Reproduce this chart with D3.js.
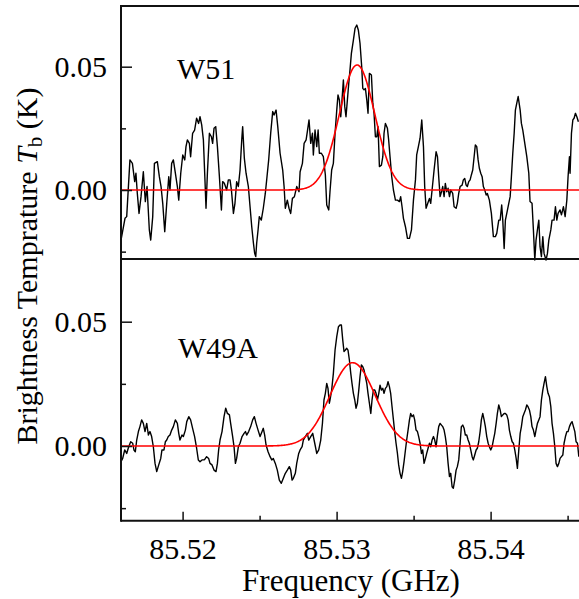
<!DOCTYPE html>
<html>
<head>
<meta charset="utf-8">
<script src="https://cdn.jsdelivr.net/npm/d3@7"></script>
<style>
  body { margin: 0; background: #fff; }
  svg { display: block; }
  text { font-family: "Liberation Serif", "Times New Roman", serif; fill: #000; }
</style>
</head>
<body>
<svg id="chart" width="579" height="599"></svg>
<script>
// W51 spectrum (GHz, K)
const w51Freq = [
  85.51600, 85.51626, 85.51637, 85.51658, 85.51674, 85.51689, 85.51697, 85.51706, 85.51717, 85.51730,
  85.51745, 85.51758, 85.51769, 85.51784, 85.51793, 85.51806, 85.51817, 85.51836, 85.51849, 85.51860,
  85.51871, 85.51884, 85.51897, 85.51910, 85.51918, 85.51929, 85.51940, 85.51953, 85.51966, 85.51975,
  85.51988, 85.52001, 85.52014, 85.52022, 85.52031, 85.52044, 85.52052, 85.52065, 85.52078, 85.52091,
  85.52104, 85.52113, 85.52124, 85.52135, 85.52146, 85.52152, 85.52161, 85.52174, 85.52187, 85.52195,
  85.52204, 85.52215, 85.52226, 85.52239, 85.52252, 85.52260, 85.52271, 85.52286, 85.52297, 85.52308,
  85.52317, 85.52330, 85.52340, 85.52351, 85.52362, 85.52373, 85.52384, 85.52390, 85.52401, 85.52412,
  85.52427, 85.52438, 85.52449, 85.52460, 85.52468, 85.52475, 85.52481, 85.52490, 85.52498, 85.52511,
  85.52524, 85.52537, 85.52546, 85.52559, 85.52572, 85.52585, 85.52594, 85.52607, 85.52618, 85.52633,
  85.52650, 85.52659, 85.52667, 85.52680, 85.52691, 85.52702, 85.52713, 85.52726, 85.52741, 85.52756,
  85.52763, 85.52778, 85.52789, 85.52802, 85.52810, 85.52821, 85.52832, 85.52843, 85.52849, 85.52860,
  85.52871, 85.52880, 85.52888, 85.52901, 85.52914, 85.52927, 85.52936, 85.52949,
  85.52957, 85.52968, 85.52979, 85.52990, 85.53001, 85.53009, 85.53018, 85.53027, 85.53035, 85.53044,
  85.53053, 85.53061, 85.53070, 85.53079, 85.53087, 85.53096, 85.53109, 85.53120, 85.53131, 85.53141,
  85.53152, 85.53163, 85.53170, 85.53178, 85.53187, 85.53196, 85.53204, 85.53213, 85.53226, 85.53235,
  85.53243, 85.53252, 85.53261, 85.53269, 85.53278, 85.53291, 85.53300, 85.53308, 85.53317, 85.53330,
  85.53338, 85.53347, 85.53358, 85.53369, 85.53382, 85.53395, 85.53408, 85.53416, 85.53425, 85.53434,
  85.53447, 85.53460, 85.53473, 85.53486, 85.53499, 85.53512, 85.53520, 85.53531, 85.53542, 85.53553,
  85.53564, 85.53572, 85.53581, 85.53592, 85.53603, 85.53611, 85.53620, 85.53633, 85.53646, 85.53655,
  85.53663, 85.53672, 85.53681, 85.53689, 85.53698, 85.53706, 85.53715, 85.53724, 85.53733, 85.53741,
  85.53754, 85.53763, 85.53776, 85.53784, 85.53793, 85.53802, 85.53815, 85.53823, 85.53832, 85.53841,
  85.53849, 85.53858, 85.53867, 85.53875, 85.53884, 85.53893, 85.53901, 85.53910, 85.53919, 85.53927,
  85.53936, 85.53945, 85.53953, 85.53962, 85.53971, 85.53979, 85.53992, 85.54005, 85.54018, 85.54031,
  85.54040, 85.54053, 85.54062, 85.54072, 85.54079, 85.54088, 85.54096, 85.54105, 85.54118, 85.54127,
  85.54135, 85.54144, 85.54153, 85.54161, 85.54170, 85.54179, 85.54192, 85.54200, 85.54209, 85.54222,
  85.54235, 85.54248, 85.54256, 85.54269, 85.54278, 85.54287, 85.54295, 85.54304, 85.54313, 85.54321,
  85.54330, 85.54339, 85.54347, 85.54360, 85.54369, 85.54378, 85.54391, 85.54399, 85.54412, 85.54421,
  85.54430, 85.54438, 85.54451, 85.54460, 85.54473, 85.54484, 85.54495, 85.54503, 85.54512, 85.54516,
  85.54525, 85.54534, 85.54542, 85.54551, 85.54560, 85.54570
];
const w51Tb = [
  -0.0203, -0.0115, -0.0108, 0.0122, 0.0108, 0.0034, 0.0068, -0.0014, -0.0095, -0.0027,
  0.0074, -0.0047, 0.0014, -0.0162, -0.0203, -0.0108, 0.0108, 0.0115, 0.0054, 0.0014,
  -0.0054, -0.0169, -0.0054, 0.0054, 0, 0.0108, 0.0122, 0.0068, 0.0014, -0.0041,
  0.0068, 0.0142, 0.0122, 0.0176, 0.0203, 0.0189, 0.0135, 0.0230, 0.0243, 0.0291,
  0.0270, 0.0297, 0.0264, 0.0203, 0.0027, -0.0074, 0.0068, 0.0230, 0.0216, 0.0189,
  0.0250, 0.0257, 0.0176, 0.0054, -0.0081, 0.0034, 0.0027, 0, 0.0041, 0.0041,
  0, -0.0095, -0.0054, 0.0034, 0.0014, 0.0081, 0.0203, 0.0257, 0.0128, 0.0068,
  0.0014, -0.0068, -0.0149, -0.0216, -0.0257, -0.0270, -0.0216, -0.0162, -0.0108, -0.0122,
  -0.0074, -0.0014, 0.0041, 0.0122, 0.0230, 0.0318, 0.0304, 0.0324, 0.0257, 0.0149,
  0.0081, 0.0014, -0.0074, -0.0041, -0.0074, -0.0095, -0.0034, -0.0027, 0.0014, -0.0007,
  0.0074, 0.0108, 0.0189, 0.0203, 0.0237, 0.0284, 0.0189, 0.0230, 0.0142, 0.0243,
  0.0176, 0.0243, 0.0149, 0.0149, 0.0135, 0.0061, -0.0061, -0.0081,
  -0.0007, 0.0081, 0.0108, 0.0230, 0.0324, 0.0385, 0.0365, 0.0297, 0.0365, 0.0446,
  0.0338, 0.0297, 0.0365, 0.0433, 0.0487, 0.0554, 0.0608, 0.0656, 0.0669, 0.0649,
  0.0595, 0.0500, 0.0412, 0.0406, 0.0412, 0.0365, 0.0311, 0.0473, 0.0466, 0.0352,
  0.0311, 0.0216, 0.0216, 0.0257, 0.0095, 0.0101, 0.0135, 0.0230, 0.0270, 0.0250,
  0.0203, 0.0135, 0.0054, 0, -0.0041, -0.0041, -0.0047, -0.0027, -0.0068, -0.0115,
  -0.0149, -0.0196, -0.0196, -0.0162, -0.0041, 0.0041, 0.0142, 0.0176, 0.0210, 0.0284,
  0.0176, 0.0014, -0.0074, -0.0054, -0.0034, -0.0054, 0, 0.0081, 0.0155, 0.0135,
  0.0054, -0.0027, -0.0007, 0.0014, -0.0027, 0.0027, -0.0007, 0.0007, -0.0027, 0,
  -0.0014, -0.0068, -0.0074, -0.0054, -0.0014, 0.0014, 0.0020, 0.0041, 0.0047, 0.0020,
  0.0014, 0.0034, 0.0041, 0.0061, 0.0081, 0.0135, 0.0183, 0.0176, 0.0122, 0.0088,
  0.0068, 0.0054, 0.0014, 0, -0.0020, -0.0014, -0.0041, -0.0095, -0.0189, -0.0189,
  -0.0176, -0.0122, -0.0122, -0.0061, -0.0122, -0.0237, -0.0122, -0.0095, -0.0054, -0.0027,
  0.0054, 0.0149, 0.0230, 0.0324, 0.0352, 0.0379, 0.0324, 0.0270, 0.0243, 0.0189,
  0.0135, 0.0068, -0.0047, -0.0054, -0.0162, -0.0284, -0.0203, -0.0162, -0.0122, -0.0230,
  -0.0270, -0.0189, -0.0257, -0.0284, -0.0257, -0.0203, -0.0162, -0.0122, -0.0122, -0.0068,
  -0.0122, -0.0095, -0.0081, -0.0101, -0.0068, -0.0108, -0.0041, 0.0054, 0.0135, 0.0068,
  0.0230, 0.0284, 0.0291, 0.0311, 0.0297, 0.0277
];

// W49A spectrum (GHz, K)
const w49aFreq = [
  85.51600, 85.51611, 85.51624, 85.51637, 85.51650, 85.51663, 85.51676, 85.51684, 85.51693, 85.51702,
  85.51713, 85.51723, 85.51734, 85.51745, 85.51756, 85.51767, 85.51778, 85.51788, 85.51799, 85.51810,
  85.51821, 85.51832, 85.51845, 85.51858, 85.51866, 85.51879, 85.51888, 85.51897, 85.51907, 85.51918,
  85.51929, 85.51940, 85.51953, 85.51966, 85.51975, 85.51983, 85.51996, 85.52005, 85.52018, 85.52027,
  85.52040, 85.52052, 85.52065, 85.52078, 85.52091, 85.52102, 85.52113, 85.52126, 85.52139, 85.52148,
  85.52156, 85.52169, 85.52178, 85.52191, 85.52204, 85.52217, 85.52226, 85.52234, 85.52243, 85.52256,
  85.52269, 85.52280, 85.52291, 85.52304, 85.52312, 85.52325, 85.52334, 85.52343, 85.52351, 85.52362,
  85.52373, 85.52386, 85.52399, 85.52408, 85.52416, 85.52429, 85.52442, 85.52455, 85.52466, 85.52477,
  85.52490, 85.52503, 85.52516, 85.52524, 85.52533, 85.52542, 85.52555, 85.52568, 85.52579, 85.52589,
  85.52602, 85.52615, 85.52628, 85.52641, 85.52654, 85.52667, 85.52680, 85.52693, 85.52702, 85.52711,
  85.52719, 85.52732, 85.52741, 85.52754, 85.52763, 85.52776, 85.52784, 85.52797, 85.52810, 85.52819,
  85.52832, 85.52845, 85.52858, 85.52871, 85.52884, 85.52897, 85.52908, 85.52918, 85.52927, 85.52936,
  85.52944, 85.52953,
  85.52957, 85.52968, 85.52979, 85.52990, 85.53001, 85.53012, 85.53022, 85.53031, 85.53040, 85.53048,
  85.53057, 85.53066, 85.53074, 85.53083, 85.53092, 85.53100, 85.53109, 85.53118, 85.53126, 85.53135,
  85.53144, 85.53152, 85.53161, 85.53170, 85.53178, 85.53187, 85.53196, 85.53204, 85.53213, 85.53222,
  85.53230, 85.53239, 85.53248, 85.53256, 85.53265, 85.53274, 85.53282, 85.53291, 85.53300, 85.53308,
  85.53317, 85.53326, 85.53334, 85.53343, 85.53351, 85.53360, 85.53369, 85.53377, 85.53386, 85.53395,
  85.53403, 85.53412, 85.53421, 85.53429, 85.53438, 85.53447, 85.53455, 85.53464, 85.53473, 85.53481,
  85.53490, 85.53499, 85.53507, 85.53516, 85.53525, 85.53533, 85.53542, 85.53551, 85.53559, 85.53568,
  85.53577, 85.53585, 85.53594, 85.53603, 85.53611, 85.53620, 85.53629, 85.53637, 85.53646, 85.53655,
  85.53663, 85.53672, 85.53681, 85.53689, 85.53698, 85.53706, 85.53715, 85.53724, 85.53733, 85.53741,
  85.53750, 85.53758, 85.53767, 85.53776, 85.53784, 85.53793, 85.53802, 85.53810, 85.53819, 85.53828,
  85.53836, 85.53845, 85.53854, 85.53862, 85.53871, 85.53880, 85.53888, 85.53897, 85.53906, 85.53914,
  85.53923, 85.53932, 85.53940, 85.53949, 85.53958, 85.53966, 85.53975, 85.53984, 85.53992, 85.54001,
  85.54010, 85.54018, 85.54027, 85.54036, 85.54044, 85.54053, 85.54062, 85.54070, 85.54079, 85.54088,
  85.54096, 85.54105, 85.54114, 85.54122, 85.54131, 85.54140, 85.54148, 85.54157, 85.54166, 85.54174,
  85.54183, 85.54192, 85.54200, 85.54209, 85.54217, 85.54226, 85.54235, 85.54243, 85.54252, 85.54261,
  85.54269, 85.54278, 85.54287, 85.54295, 85.54304, 85.54313, 85.54321, 85.54330, 85.54339, 85.54347,
  85.54356, 85.54365, 85.54373, 85.54382, 85.54391, 85.54399, 85.54408, 85.54417, 85.54425, 85.54434,
  85.54443, 85.54451, 85.54460, 85.54469, 85.54477, 85.54486, 85.54495, 85.54503, 85.54512, 85.54521,
  85.54529, 85.54538, 85.54547, 85.54555, 85.54564, 85.54573
];
const w49aTb = [
  -0.0063, -0.0050, -0.0016, -0.0030, -0.0003, 0.0017, 0.0011, -0.0016, -0.0023, 0.0024,
  0.0058, 0.0078, 0.0105, 0.0091, 0.0058, 0.0091, 0.0044, 0.0058, 0.0038, -0.0003,
  -0.0070, -0.0103, -0.0076, -0.0050, -0.0016, -0.0016, 0.0017, 0.0024, 0.0038, 0.0044,
  0.0064, 0.0078, 0.0105, 0.0091, 0.0051, 0.0024, 0.0044, 0.0038, 0.0064, 0.0098,
  0.0118, 0.0105, 0.0071, 0.0038, -0.0009, -0.0056, -0.0063, -0.0056, -0.0056, -0.0050,
  -0.0043, -0.0050, -0.0070, -0.0076, -0.0097, -0.0103, -0.0070, -0.0016, 0.0024, 0.0058,
  0.0118, 0.0152, 0.0131, 0.0125, 0.0091, 0.0038, -0.0003, -0.0070, -0.0050, -0.0003,
  0.0011, 0.0038, 0.0051, 0.0058, 0.0044, 0.0058, 0.0078, 0.0105, 0.0118, 0.0091,
  0.0064, 0.0038, 0.0058, 0.0071, 0.0044, 0.0004, -0.0023, -0.0043, -0.0056, -0.0050,
  -0.0070, -0.0097, -0.0137, -0.0150, -0.0130, -0.0110, -0.0097, -0.0083, -0.0097, -0.0137,
  -0.0130, -0.0110, -0.0070, -0.0030, -0.0016, -0.0003, 0.0024, 0.0038, 0.0051, 0.0024,
  0.0038, 0.0051, 0.0011, -0.0030, -0.0016, 0.0024, 0.0091, 0.0185, 0.0212, 0.0252,
  0.0232, 0.0172,
  0.0185, 0.0225, 0.0292, 0.0386, 0.0440, 0.0480, 0.0487, 0.0487, 0.0426, 0.0380,
  0.0386, 0.0393, 0.0386, 0.0346, 0.0292, 0.0252, 0.0212, 0.0185, 0.0152, 0.0172,
  0.0225, 0.0279, 0.0326, 0.0319, 0.0306, 0.0279, 0.0252, 0.0212, 0.0172, 0.0131,
  0.0185, 0.0225, 0.0225, 0.0212, 0.0185, 0.0212, 0.0245, 0.0225, 0.0232, 0.0212,
  0.0232, 0.0239, 0.0259, 0.0239, 0.0212, 0.0158, 0.0105, 0.0058, 0.0011, -0.0030,
  -0.0076, -0.0110, -0.0130, -0.0103, -0.0063, -0.0016, 0.0024, 0.0064, 0.0105, 0.0131,
  0.0118, 0.0125, 0.0105, 0.0064, 0.0058, 0.0038, 0.0011, -0.0030, -0.0016, -0.0070,
  -0.0050, -0.0030, -0.0009, 0.0011, -0.0003, 0.0024, 0.0038, 0.0024, -0.0003, 0.0044,
  0.0078, 0.0091, 0.0084, 0.0078, 0.0064, 0.0038, -0.0003, -0.0070, -0.0123, -0.0110,
  -0.0164, -0.0170, -0.0137, -0.0097, -0.0083, -0.0056, 0.0011, 0.0078, 0.0084, 0.0071,
  0.0044, 0.0044, 0.0024, 0.0011, -0.0016, -0.0043, -0.0056, -0.0036, -0.0016, -0.0009,
  0.0017, 0.0058, 0.0105, 0.0131, 0.0105, 0.0078, 0.0038, 0.0011, -0.0003, -0.0016,
  -0.0003, 0.0024, 0.0051, 0.0091, 0.0131, 0.0165, 0.0145, 0.0118, 0.0125, 0.0131,
  0.0131, 0.0125, 0.0105, 0.0064, 0.0038, 0.0017, 0.0011, -0.0016, -0.0050, -0.0090,
  -0.0016, 0.0051, 0.0078, 0.0118, 0.0131, 0.0145, 0.0165, 0.0158, 0.0145, 0.0118,
  0.0078, 0.0064, 0.0038, 0.0064, 0.0091, 0.0105, 0.0118, 0.0185, 0.0225, 0.0252,
  0.0279, 0.0239, 0.0212, 0.0198, 0.0158, 0.0091, 0.0051, -0.0003, -0.0070, -0.0083,
  -0.0070, -0.0050, -0.0043, -0.0036, 0.0011, 0.0038, 0.0058, 0.0058, 0.0078, 0.0091,
  0.0098, 0.0078, 0.0058, 0.0017, 0.0011, -0.0043
];

// Gaussian fits: amplitude (K), centre (GHz), FWHM (GHz)
const sourceNames = ['W51', 'W49A'];
const fitAmp = [0.0507, 0.0335];
const fitCenter = [85.53133, 85.53104];
const fitFwhm = [0.00271, 0.00346];

// axis ticks
const freqTicks = [85.52, 85.53, 85.54];
const freqMinorTicks = [85.525, 85.535, 85.545];
const tbTicks = [0, 0.05];
const tbMinorTicks = [-0.025, 0.025];
const freqDomain = [85.516, 85.54574];

const WIDTH = 579, HEIGHT = 599;
const PLOT_LEFT = 121, PLOT_RIGHT = 579;
const FRAME_COLOR = '#111';
const SERIF = '"Liberation Serif", "Times New Roman", serif';

const svg = d3.select('#chart');

const xScale = d3.scaleLinear()
    .domain(freqDomain)
    .range([PLOT_LEFT, PLOT_RIGHT]);

// layout for the two stacked panels
const panels = [
    {freq: w51Freq, tb: w51Tb, fit: 0, top: 6, bottom: 259, yDomain: [-0.02798, 0.07461], labelX: 177, labelY: 79},
    {freq: w49aFreq, tb: w49aTb, fit: 1, top: 259, bottom: 520.7, yDomain: [-0.03005, 0.07522], labelX: 178, labelY: 358}
];

function gaussian(f, i) {
    const sigma = fitFwhm[i] / (2 * Math.sqrt(2 * Math.LN2));
    return fitAmp[i] * Math.exp(-0.5 * Math.pow((f - fitCenter[i]) / sigma, 2));
}

const fitGrid = d3.range(0, 601).map(k => freqDomain[0] + k * (freqDomain[1] - freqDomain[0]) / 600);

panels.forEach(p => {
    const yScale = d3.scaleLinear()
        .domain(p.yDomain)
        .range([p.bottom, p.top]);

    const line = d3.line()
        .x(d => xScale(d[0]))
        .y(d => yScale(d[1]));

    // spectrum
    svg.append('path')
        .datum(p.freq.map((f, i) => [f, p.tb[i]]))
        .attr('d', line)
        .attr('fill', 'none')
        .attr('stroke', '#000')
        .attr('stroke-width', 1.4)
        .attr('stroke-linejoin', 'round');

    // gaussian fit
    svg.append('path')
        .datum(fitGrid.map(f => [f, gaussian(f, p.fit)]))
        .attr('d', line)
        .attr('fill', 'none')
        .attr('stroke', '#ff0000')
        .attr('stroke-width', 1.6);

    // y axis, ticks pointing inward
    const yAxis = svg.append('g')
        .attr('transform', `translate(${PLOT_LEFT},0)`)
        .call(d3.axisLeft(yScale)
            .tickValues(tbTicks)
            .tickSize(-11)
            .tickSizeOuter(0)
            .tickPadding(14)
            .tickFormat(d3.format('.2f')));
    yAxis.select('.domain').remove();
    yAxis.selectAll('.tick line').attr('stroke', FRAME_COLOR).attr('stroke-width', 1.5);
    yAxis.selectAll('.tick text')
        .attr('font-size', 30)
        .attr('font-family', SERIF)
        .attr('fill', '#000');

    const yMinor = svg.append('g')
        .attr('transform', `translate(${PLOT_LEFT},0)`)
        .call(d3.axisLeft(yScale)
            .tickValues(tbMinorTicks)
            .tickSize(-5)
            .tickSizeOuter(0)
            .tickFormat(''));
    yMinor.select('.domain').remove();
    yMinor.selectAll('.tick line').attr('stroke', FRAME_COLOR).attr('stroke-width', 1.5);

    // source name
    svg.append('text')
        .attr('x', p.labelX)
        .attr('y', p.labelY)
        .attr('font-size', 30)
        .text(sourceNames[p.fit]);
});

// x axis at the bottom
const X_AXIS_Y = 520.7;
const xAxis = svg.append('g')
    .attr('transform', `translate(0,${X_AXIS_Y})`)
    .call(d3.axisBottom(xScale)
        .tickValues(freqTicks)
        .tickSize(-9)
        .tickSizeOuter(0)
        .tickPadding(17)
        .tickFormat(d3.format('.2f')));
xAxis.select('.domain').remove();
xAxis.selectAll('.tick line').attr('stroke', FRAME_COLOR).attr('stroke-width', 1.5);
xAxis.selectAll('.tick text')
    .attr('font-size', 30)
    .attr('font-family', SERIF)
    .attr('fill', '#000');

const xMinor = svg.append('g')
    .attr('transform', `translate(0,${X_AXIS_Y})`)
    .call(d3.axisBottom(xScale)
        .tickValues(freqMinorTicks)
        .tickSize(-5)
        .tickSizeOuter(0)
        .tickFormat(''));
xMinor.select('.domain').remove();
xMinor.selectAll('.tick line').attr('stroke', FRAME_COLOR).attr('stroke-width', 1.5);

// frame lines
const frame = svg.append('g')
    .attr('stroke', FRAME_COLOR)
    .attr('stroke-width', 2)
    .attr('fill', 'none');
frame.append('line').attr('x1', PLOT_LEFT).attr('x2', PLOT_LEFT).attr('y1', 5).attr('y2', X_AXIS_Y + 1);
[6, 259, X_AXIS_Y].forEach(y => {
    frame.append('line').attr('x1', PLOT_LEFT).attr('x2', PLOT_RIGHT).attr('y1', y).attr('y2', y);
});

// axis titles
svg.append('text')
    .attr('x', 351)
    .attr('y', 591)
    .attr('text-anchor', 'middle')
    .attr('font-size', 31)
    .text('Frequency (GHz)');

const yTitle = svg.append('text')
    .attr('transform', 'translate(37,266) rotate(-90)')
    .attr('text-anchor', 'middle')
    .attr('font-size', 30);
yTitle.append('tspan').text('Brightness Temprature ');
yTitle.append('tspan').attr('font-style', 'italic').text('T');
yTitle.append('tspan').attr('font-size', 21).attr('dy', 5).text('b');
yTitle.append('tspan').attr('dy', -5).text(' (K)');
</script>
</body>
</html>
